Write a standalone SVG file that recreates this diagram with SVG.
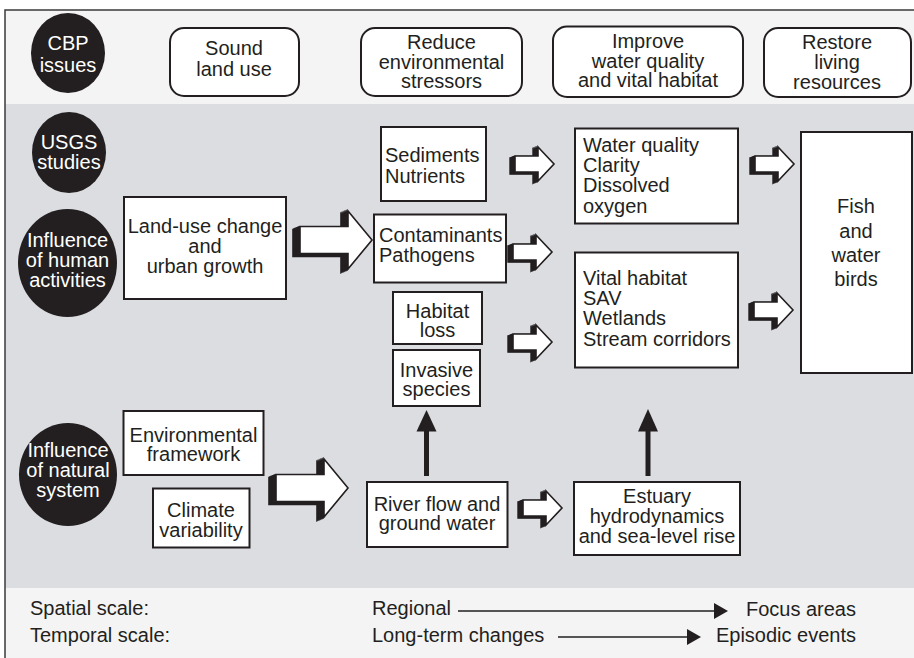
<svg xmlns="http://www.w3.org/2000/svg" xmlns:xlink="http://www.w3.org/1999/xlink" width="914" height="658" viewBox="0 0 914 658">
<style>
.t{font-family:"Liberation Sans",Arial,sans-serif;font-size:20px;fill:#231f20}
.w{fill:#ffffff}
.c{text-anchor:middle}
.e{text-anchor:end}
.box{fill:#ffffff;stroke:#231f20;stroke-width:2}
.dot{fill:#231f20}
.ln{stroke:#231f20;stroke-width:1.6;fill:none}
.arw{fill:#ffffff;stroke:#231f20;stroke-width:1.6;stroke-linejoin:miter}
</style>
<defs>
<path id="bigShape" d="M-72,-13.5 H-24 V-29 L0,0 L-24,29 V13.5 H-72 Z"/>
<path id="smallShape" d="M-39,-8 H-16 V-17 L0,0 L-16,17 V8 H-39 Z"/>
<g id="bigArrow">
<g fill="#231f20" stroke="#231f20" stroke-width="1.6">
<use xlink:href="#bigShape" x="-1" y="0.43"/>
<use xlink:href="#bigShape" x="-2" y="0.86"/>
<use xlink:href="#bigShape" x="-3" y="1.29"/>
<use xlink:href="#bigShape" x="-4" y="1.71"/>
<use xlink:href="#bigShape" x="-5" y="2.14"/>
<use xlink:href="#bigShape" x="-6" y="2.57"/>
<use xlink:href="#bigShape" x="-7" y="3"/>
</g>
<use xlink:href="#bigShape" class="arw"/>
</g>
<g id="smallArrow">
<g fill="#231f20" stroke="#231f20" stroke-width="1.4">
<use xlink:href="#smallShape" x="-1" y="0.4"/>
<use xlink:href="#smallShape" x="-2" y="0.8"/>
<use xlink:href="#smallShape" x="-3" y="1.2"/>
<use xlink:href="#smallShape" x="-4" y="1.6"/>
<use xlink:href="#smallShape" x="-5" y="2"/>
</g>
<use xlink:href="#smallShape" class="arw"/>
</g>
</defs>

<!-- background bands and frame -->
<rect x="0" y="0" width="914" height="658" fill="#ffffff"/>
<rect x="5" y="10" width="909" height="94" fill="#f4f4f4"/>
<rect x="5" y="104" width="909" height="484" fill="#dcdde0"/>
<rect x="5" y="588" width="909" height="70" fill="#f4f4f4"/>
<path d="M5,658 V10 H914" fill="none" stroke="#3a3a3a" stroke-width="1.5"/>

<!-- row header circles -->
<g id="cbp-issues">
<ellipse class="dot" cx="68" cy="53" rx="37" ry="40"/>
<text class="t w c" x="68" y="50">CBP</text>
<text class="t w c" x="68" y="72">issues</text>
</g>
<g id="usgs-studies">
<ellipse class="dot" cx="69" cy="152.5" rx="37" ry="40.5"/>
<text class="t w c" x="69" y="149">USGS</text>
<text class="t w c" x="69" y="168.5">studies</text>
</g>
<g id="influence-human">
<ellipse class="dot" cx="67.5" cy="263" rx="49.5" ry="54"/>
<text class="t w c" x="67.5" y="247">Influence</text>
<text class="t w c" x="67.5" y="267">of human</text>
<text class="t w c" x="67.5" y="287">activities</text>
</g>
<g id="influence-natural">
<ellipse class="dot" cx="68" cy="474.5" rx="49" ry="51.5"/>
<text class="t w c" x="68" y="457">Influence</text>
<text class="t w c" x="68" y="477">of natural</text>
<text class="t w c" x="68" y="497">system</text>
</g>

<!-- CBP issue boxes -->
<g id="sound-land-use">
<rect class="box" x="170" y="28" width="129" height="68" rx="14"/>
<text class="t c" x="234" y="55">Sound</text>
<text class="t c" x="234" y="76">land use</text>
</g>
<g id="reduce-stressors">
<rect class="box" x="361" y="28" width="161" height="68" rx="14"/>
<text class="t c" x="441.5" y="48.5">Reduce</text>
<text class="t c" x="441.5" y="68.5">environmental</text>
<text class="t c" x="441.5" y="88">stressors</text>
</g>
<g id="improve-water">
<rect class="box" x="553" y="26.5" width="190" height="70.5" rx="14"/>
<text class="t c" x="648" y="47.5">Improve</text>
<text class="t c" x="648" y="67.5">water quality</text>
<text class="t c" x="648" y="87">and vital habitat</text>
</g>
<g id="restore-living">
<rect class="box" x="764" y="28" width="147" height="69" rx="14"/>
<text class="t c" x="837" y="48.5">Restore</text>
<text class="t c" x="837" y="68.5">living</text>
<text class="t c" x="837" y="88.5">resources</text>
</g>

<!-- study boxes -->
<g id="land-use-change">
<rect class="box" x="124" y="197" width="162" height="102"/>
<text class="t c" x="205" y="233">Land-use change</text>
<text class="t c" x="205" y="253">and</text>
<text class="t c" x="205" y="273">urban growth</text>
</g>
<g id="sediments-nutrients">
<rect class="box" x="381" y="127" width="105" height="74"/>
<text class="t" x="385" y="161.5">Sediments</text>
<text class="t" x="385" y="182.5">Nutrients</text>
</g>
<g id="contaminants-pathogens">
<rect class="box" x="374" y="214.5" width="132" height="68"/>
<text class="t" x="379" y="241.5">Contaminants</text>
<text class="t" x="379" y="262">Pathogens</text>
</g>
<g id="habitat-loss">
<rect class="box" x="393" y="292" width="89" height="52"/>
<text class="t c" x="437.5" y="317.5">Habitat</text>
<text class="t c" x="437.5" y="337">loss</text>
</g>
<g id="invasive-species">
<rect class="box" x="393" y="350" width="87" height="56"/>
<text class="t c" x="436.5" y="376.5">Invasive</text>
<text class="t c" x="436.5" y="396">species</text>
</g>
<g id="water-quality">
<rect class="box" x="575" y="128.5" width="163" height="95"/>
<text class="t" x="583" y="151.5">Water quality</text>
<text class="t" x="583" y="171.5">Clarity</text>
<text class="t" x="583" y="192">Dissolved</text>
<text class="t" x="583" y="212.5">oxygen</text>
</g>
<g id="vital-habitat">
<rect class="box" x="575" y="252.5" width="163" height="115"/>
<text class="t" x="583" y="285">Vital habitat</text>
<text class="t" x="583" y="305">SAV</text>
<text class="t" x="583" y="325">Wetlands</text>
<text class="t" x="583" y="345.5">Stream corridors</text>
</g>
<g id="fish-birds">
<rect class="box" x="801" y="132" width="111" height="241"/>
<text class="t c" x="856" y="213">Fish</text>
<text class="t c" x="856" y="237.5">and</text>
<text class="t c" x="856" y="261.5">water</text>
<text class="t c" x="856" y="286">birds</text>
</g>
<g id="environmental-framework">
<rect class="box" x="123.5" y="411" width="140" height="64"/>
<text class="t c" x="193.5" y="441.5">Environmental</text>
<text class="t c" x="193.5" y="460.5">framework</text>
</g>
<g id="climate-variability">
<rect class="box" x="153" y="488.5" width="96.5" height="59"/>
<text class="t c" x="201" y="516.5">Climate</text>
<text class="t c" x="201" y="536.5">variability</text>
</g>
<g id="river-flow">
<rect class="box" x="367" y="482" width="140.5" height="65"/>
<text class="t c" x="437" y="510.5">River flow and</text>
<text class="t c" x="437" y="530">ground water</text>
</g>
<g id="estuary">
<rect class="box" x="574" y="482" width="166" height="73"/>
<text class="t c" x="657" y="502.5">Estuary</text>
<text class="t c" x="657" y="522.5">hydrodynamics</text>
<text class="t c" x="657" y="542.5">and sea-level rise</text>
</g>

<!-- scale legend -->
<g id="scale-legend">
<text class="t" x="30" y="615">Spatial scale:</text>
<text class="t" x="30" y="641.5">Temporal scale:</text>
<text class="t" x="372" y="615">Regional</text>
<text class="t" x="372" y="641.5">Long-term changes</text>
<text class="t e" x="856" y="616">Focus areas</text>
<text class="t e" x="856" y="641.5">Episodic events</text>
</g>

<!-- connectors -->
<g id="connectors">
<use xlink:href="#bigArrow" transform="translate(372,240)"/>
<use xlink:href="#bigArrow" transform="translate(348,488)"/>
<use xlink:href="#smallArrow" transform="translate(554,164)"/>
<use xlink:href="#smallArrow" transform="translate(552,252)"/>
<use xlink:href="#smallArrow" transform="translate(552,342)"/>
<use xlink:href="#smallArrow" transform="translate(794,164)"/>
<use xlink:href="#smallArrow" transform="translate(793,310)"/>
<use xlink:href="#smallArrow" transform="translate(562,508)"/>
<line x1="426.5" y1="476" x2="426.5" y2="428" stroke="#231f20" stroke-width="5"/>
<polygon points="416.5,431.5 436.5,431.5 426.5,410" fill="#231f20"/>
<line x1="648" y1="476" x2="648" y2="428" stroke="#231f20" stroke-width="5"/>
<polygon points="638,431.5 658,431.5 648,409" fill="#231f20"/>
<line class="ln" x1="458" y1="611" x2="716" y2="611"/>
<polygon points="714,603 728,611 714,619" fill="#231f20"/>
<line class="ln" x1="558" y1="637" x2="689" y2="637"/>
<polygon points="687,629 701,637 687,645" fill="#231f20"/>
</g>
</svg>
